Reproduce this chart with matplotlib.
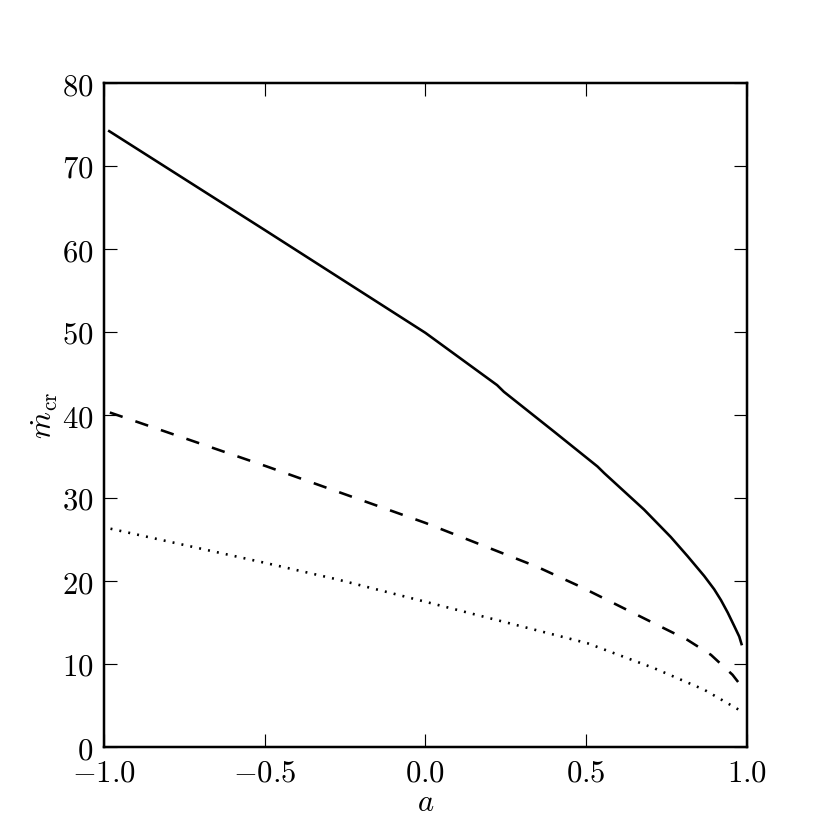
import matplotlib
matplotlib.use("Agg")
import matplotlib.pyplot as plt
from matplotlib.ticker import FuncFormatter

plt.rcParams['mathtext.fontset'] = 'cm'
plt.rcParams['font.family'] = ['DejaVu Serif']

# data
a_solid = [-0.983, -0.5, 0.0, 0.223, 0.244, 0.4, 0.535, 0.556, 0.68, 0.763, 0.815, 0.867, 0.898, 0.919, 0.94, 0.96, 0.976, 0.983]
m_solid = [74.2, 62.3, 49.9, 43.6, 42.8, 38.0, 33.8, 33.0, 28.6, 25.3, 23.0, 20.6, 19.0, 17.7, 16.2, 14.6, 13.3, 12.4]

a_dashed = [-0.981, -0.493, 0.0, 0.348, 0.483, 0.628, 0.711, 0.815, 0.888, 0.955, 0.983]
m_dashed = [40.3, 33.8, 27.0, 21.7, 19.3, 16.5, 14.9, 12.9, 11.1, 8.7, 7.3]

a_dotted = [-0.979, -0.5, -0.275, 0.0, 0.504, 0.711, 0.867, 0.983]
m_dotted = [26.3, 22.2, 20.2, 17.5, 12.5, 9.5, 6.9, 4.3]

xticks = [-1.0, -0.5, 0.0, 0.5, 1.0]
yticks = [0, 10, 20, 30, 40, 50, 60, 70, 80]

fig = plt.figure(figsize=(6, 6), dpi=830 / 6)
ax = fig.add_axes([0.125, 0.1, 0.775, 0.8])

lw = 1.35
ax.plot(a_solid, m_solid, color='black', lw=lw, solid_joinstyle='round')
ax.plot(a_dashed, m_dashed, color='black', lw=lw, dashes=(5.2, 5.2))
ax.plot(a_dotted, m_dotted, color='black', lw=lw, dashes=(0.75, 2.75))

ax.set_xlim(-1.0, 1.0)
ax.set_ylim(0, 80)
ax.set_xticks(xticks)
ax.set_yticks(yticks)

ax.xaxis.set_major_formatter(FuncFormatter(lambda v, p: r'$%.1f$' % v))
ax.yaxis.set_major_formatter(FuncFormatter(lambda v, p: r'$%d$' % v))

ax.tick_params(direction='in', top=True, right=True, length=7, width=0.6,
               labelsize=16, pad=5.5)
for s in ax.spines.values():
    s.set_linewidth(1.3)

ax.set_xlabel(r'$a$', fontsize=16, labelpad=-1)
ax.set_ylabel(r'$\dot{m}_{\rm cr}$', fontsize=16, labelpad=1)

fig.savefig('out.png', dpi=830 / 6, facecolor='white')
